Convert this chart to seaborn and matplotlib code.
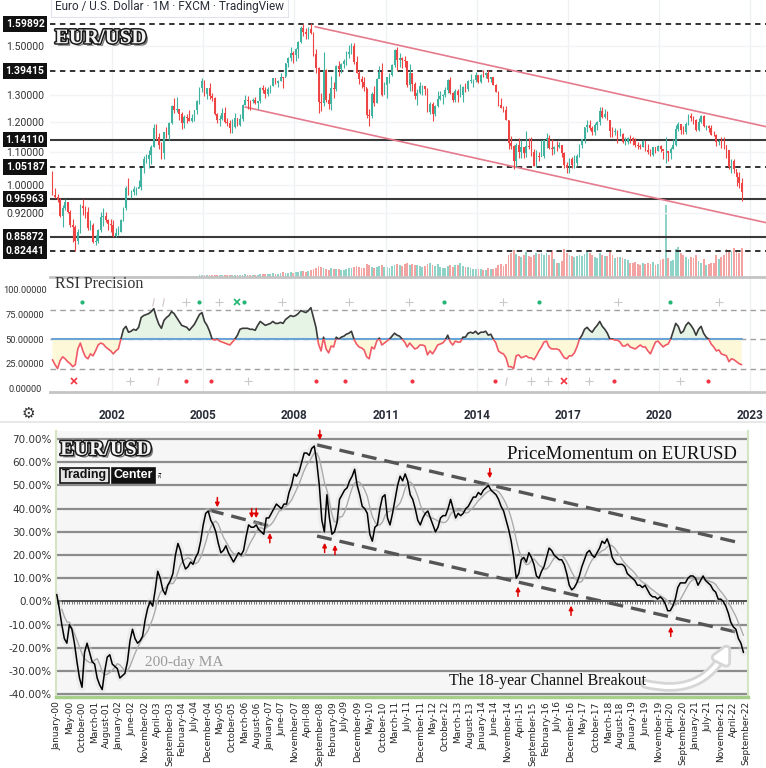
import numpy as np
import pandas as pd
import matplotlib
matplotlib.use('Agg')
import matplotlib.pyplot as plt
import matplotlib.patheffects as pe
import matplotlib.transforms as mtransforms
from matplotlib.patches import Rectangle
from matplotlib.lines import Line2D
from matplotlib.ticker import NullLocator, NullFormatter
import seaborn as sns

sns.set_theme(style='white')
plt.rcParams['font.family'] = ['Roboto', 'DejaVu Sans']

# ---------------- data: EUR/USD monthly, Jan 2000 - Sep 2022 ----------------
first_open = 1.0070
closes = [
    0.9715, 0.9645, 0.9575, 0.9125, 0.9335, 0.9520, 0.9240, 0.8880, 0.8835, 0.8480, 0.8700, 0.9390,
    0.9350, 0.9220, 0.8800, 0.8880, 0.8460, 0.8480, 0.8750, 0.9110, 0.9130, 0.9010, 0.8920, 0.8890,
    0.8610, 0.8690, 0.8720, 0.9010, 0.9340, 0.9910, 0.9790, 0.9800, 0.9870, 0.9880, 0.9940, 1.0490,
    1.0780, 1.0790, 1.0910, 1.1170, 1.1810, 1.1500, 1.1240, 1.0980, 1.1650, 1.1560, 1.1990, 1.2590,
    1.2450, 1.2480, 1.2300, 1.1960, 1.2200, 1.2170, 1.2030, 1.2170, 1.2430, 1.2760, 1.3270, 1.3560,
    1.3030, 1.3250, 1.2960, 1.2870, 1.2290, 1.2100, 1.2130, 1.2330, 1.2020, 1.1990, 1.1790, 1.1840,
    1.2160, 1.1920, 1.2110, 1.2620, 1.2820, 1.2790, 1.2770, 1.2820, 1.2680, 1.2760, 1.3250, 1.3200,
    1.3020, 1.3230, 1.3360, 1.3650, 1.3450, 1.3530, 1.3690, 1.3660, 1.4260, 1.4490, 1.4690, 1.4590,
    1.4870, 1.5190, 1.5790, 1.5610, 1.5550, 1.5760, 1.5600, 1.4670, 1.4080, 1.2730, 1.2700, 1.3980,
    1.2800, 1.2670, 1.3250, 1.3240, 1.4150, 1.4030, 1.4250, 1.4340, 1.4640, 1.4720, 1.5000, 1.4330,
    1.3870, 1.3630, 1.3510, 1.3290, 1.2270, 1.2230, 1.3050, 1.2680, 1.3630, 1.3900, 1.2990, 1.3380,
    1.3700, 1.3800, 1.4170, 1.4810, 1.4390, 1.4500, 1.4390, 1.4370, 1.3390, 1.3870, 1.3430, 1.2960,
    1.3080, 1.3330, 1.3340, 1.3240, 1.2370, 1.2660, 1.2310, 1.2580, 1.2860, 1.2960, 1.2990, 1.3190,
    1.3580, 1.3060, 1.2820, 1.3170, 1.3000, 1.3010, 1.3300, 1.3220, 1.3530, 1.3580, 1.3590, 1.3790,
    1.3490, 1.3800, 1.3770, 1.3870, 1.3630, 1.3690, 1.3390, 1.3130, 1.2630, 1.2530, 1.2450, 1.2100,
    1.1290, 1.1200, 1.0730, 1.1220, 1.0990, 1.1150, 1.0980, 1.1210, 1.1180, 1.1000, 1.0560, 1.0860,
    1.0830, 1.0870, 1.1380, 1.1450, 1.1130, 1.1110, 1.1170, 1.1160, 1.1240, 1.0980, 1.0590, 1.0520,
    1.0790, 1.0580, 1.0650, 1.0890, 1.1240, 1.1420, 1.1840, 1.1910, 1.1810, 1.1650, 1.1900, 1.2000,
    1.2410, 1.2190, 1.2310, 1.2080, 1.1690, 1.1680, 1.1690, 1.1600, 1.1600, 1.1320, 1.1320, 1.1470,
    1.1450, 1.1370, 1.1220, 1.1210, 1.1170, 1.1370, 1.1080, 1.0990, 1.0900, 1.1150, 1.1020, 1.1210,
    1.1090, 1.1030, 1.1030, 1.0960, 1.1100, 1.1230, 1.1780, 1.1940, 1.1720, 1.1650, 1.1930, 1.2210,
    1.2140, 1.2070, 1.1730, 1.2020, 1.2230, 1.1860, 1.1870, 1.1810, 1.1580, 1.1560, 1.1340, 1.1370,
    1.1230, 1.1220, 1.1070, 1.0540, 1.0730, 1.0480, 1.0220, 1.0050, 0.9800,
]
highs = [
    1.0415, 0.9890, 0.9730, 0.9620, 0.9420, 0.9600, 0.9480, 0.9290, 0.9040, 0.8880, 0.8780, 0.9450,
    0.9595, 0.9400, 0.9370, 0.9030, 0.8945, 0.8640, 0.8790, 0.9240, 0.9340, 0.9230, 0.9040, 0.9050,
    0.9010, 0.8820, 0.8850, 0.9050, 0.9380, 0.9960, 1.0190, 0.9860, 0.9950, 0.9920, 1.0150, 1.0500,
    1.0880, 1.0930, 1.1080, 1.1230, 1.1930, 1.1940, 1.1630, 1.1340, 1.1660, 1.1840, 1.2020, 1.2640,
    1.2900, 1.2930, 1.2410, 1.2380, 1.2270, 1.2290, 1.2440, 1.2300, 1.2440, 1.2800, 1.3300, 1.3670,
    1.3580, 1.3260, 1.3480, 1.3090, 1.2930, 1.2350, 1.2260, 1.2500, 1.2540, 1.2170, 1.2100, 1.2120,
    1.2320, 1.2170, 1.2290, 1.2650, 1.2980, 1.2960, 1.2810, 1.2900, 1.2910, 1.2770, 1.3300, 1.3370,
    1.3290, 1.3320, 1.3390, 1.3680, 1.3620, 1.3590, 1.3850, 1.3690, 1.4280, 1.4530, 1.4970, 1.4780,
    1.4930, 1.5240, 1.5910, 1.6020, 1.5820, 1.5840, 1.6040, 1.5650, 1.4850, 1.4100, 1.3090, 1.4720,
    1.4030, 1.3090, 1.3740, 1.3510, 1.4180, 1.4340, 1.4270, 1.4440, 1.4770, 1.5060, 1.5140, 1.5140,
    1.4580, 1.3990, 1.3740, 1.3700, 1.3250, 1.2460, 1.3130, 1.3330, 1.3680, 1.4160, 1.4280, 1.3500,
    1.3720, 1.3860, 1.4250, 1.4880, 1.4940, 1.4700, 1.4530, 1.4550, 1.4370, 1.4250, 1.3880, 1.3490,
    1.3230, 1.3490, 1.3390, 1.3290, 1.3280, 1.2740, 1.2750, 1.2640, 1.3170, 1.3140, 1.3030, 1.3310,
    1.3620, 1.3710, 1.3120, 1.3240, 1.3240, 1.3420, 1.3340, 1.3460, 1.3570, 1.3830, 1.3620, 1.3890,
    1.3740, 1.3820, 1.3970, 1.3910, 1.3990, 1.3690, 1.3700, 1.3440, 1.3140, 1.2890, 1.2600, 1.2570,
    1.2100, 1.1530, 1.1240, 1.1290, 1.1470, 1.1390, 1.1120, 1.1710, 1.1460, 1.1490, 1.1090, 1.1060,
    1.0990, 1.1380, 1.1390, 1.1620, 1.1570, 1.1420, 1.1200, 1.1370, 1.1330, 1.1220, 1.1000, 1.0680,
    1.0800, 1.0830, 1.0910, 1.0950, 1.1270, 1.1440, 1.1850, 1.2070, 1.2090, 1.1880, 1.1960, 1.2030,
    1.2540, 1.2560, 1.2480, 1.2420, 1.2100, 1.1850, 1.1790, 1.1740, 1.1820, 1.1620, 1.1500, 1.1490,
    1.1570, 1.1490, 1.1450, 1.1320, 1.1260, 1.1410, 1.1280, 1.1250, 1.1110, 1.1180, 1.1100, 1.1240,
    1.1240, 1.1050, 1.1500, 1.1020, 1.1150, 1.1420, 1.1910, 1.2010, 1.1920, 1.1880, 1.2000, 1.2310,
    1.2350, 1.2240, 1.2110, 1.2150, 1.2270, 1.2250, 1.1910, 1.1900, 1.1910, 1.1690, 1.1610, 1.1380,
    1.1480, 1.1500, 1.1190, 1.1080, 1.0790, 1.0770, 1.0370, 1.0370, 1.0200,
]
lows = [
    0.9690, 0.9630, 0.9500, 0.9090, 0.8845, 0.9290, 0.9200, 0.8840, 0.8450, 0.8230, 0.8400, 0.8680,
    0.9140, 0.9070, 0.8760, 0.8770, 0.8440, 0.8380, 0.8430, 0.8700, 0.8860, 0.8960, 0.8750, 0.8700,
    0.8580, 0.8570, 0.8620, 0.8720, 0.8990, 0.9300, 0.9700, 0.9620, 0.9690, 0.9700, 0.9900, 0.9850,
    1.0360, 1.0660, 1.0500, 1.0610, 1.1180, 1.1410, 1.1110, 1.0770, 1.0770, 1.1450, 1.1410, 1.1930,
    1.2330, 1.2370, 1.2080, 1.1760, 1.1800, 1.1960, 1.2030, 1.2000, 1.2050, 1.2280, 1.2660, 1.3110,
    1.2970, 1.2840, 1.2860, 1.2770, 1.2270, 1.1960, 1.1870, 1.2100, 1.1980, 1.1870, 1.1640, 1.1630,
    1.1800, 1.1860, 1.1880, 1.2060, 1.2620, 1.2460, 1.2450, 1.2700, 1.2650, 1.2480, 1.2700, 1.3070,
    1.2870, 1.2960, 1.3090, 1.3330, 1.3420, 1.3300, 1.3530, 1.3270, 1.3750, 1.4090, 1.4340, 1.4290,
    1.4360, 1.4500, 1.5150, 1.5460, 1.5330, 1.5300, 1.5540, 1.4580, 1.3880, 1.2330, 1.2420, 1.2600,
    1.2750, 1.2460, 1.2450, 1.2880, 1.3140, 1.3750, 1.3850, 1.4050, 1.4210, 1.4480, 1.4640, 1.4220,
    1.3870, 1.3440, 1.3270, 1.3150, 1.2140, 1.1880, 1.2150, 1.2590, 1.2690, 1.3680, 1.2970, 1.3080,
    1.2870, 1.3480, 1.3760, 1.4120, 1.3970, 1.4100, 1.4050, 1.4120, 1.3320, 1.3150, 1.3150, 1.2860,
    1.2630, 1.3040, 1.3000, 1.3000, 1.2360, 1.2290, 1.2040, 1.2240, 1.2560, 1.2800, 1.2660, 1.2930,
    1.3070, 1.3030, 1.2740, 1.2750, 1.2740, 1.2910, 1.2750, 1.3100, 1.3150, 1.3480, 1.3300, 1.3510,
    1.3480, 1.3480, 1.3710, 1.3670, 1.3500, 1.3500, 1.3370, 1.3130, 1.2570, 1.2500, 1.2360, 1.2100,
    1.1100, 1.1100, 1.0460, 1.0520, 1.0810, 1.0820, 1.0810, 1.0850, 1.1090, 1.0890, 1.0570, 1.0520,
    1.0710, 1.0860, 1.0810, 1.1140, 1.1100, 1.0910, 1.0950, 1.1050, 1.1120, 1.0850, 1.0510, 1.0340,
    1.0340, 1.0490, 1.0490, 1.0570, 1.0840, 1.1120, 1.1310, 1.1660, 1.1720, 1.1570, 1.1550, 1.1720,
    1.1920, 1.2150, 1.2160, 1.2070, 1.1510, 1.1510, 1.1570, 1.1300, 1.1530, 1.1300, 1.1220, 1.1270,
    1.1290, 1.1230, 1.1180, 1.1110, 1.1110, 1.1180, 1.1030, 1.0930, 1.0880, 1.0880, 1.0980, 1.1040,
    1.0990, 1.0780, 1.0640, 1.0730, 1.0770, 1.1100, 1.1190, 1.1710, 1.1610, 1.1600, 1.1600, 1.1920,
    1.2060, 1.1950, 1.1700, 1.1700, 1.1990, 1.1850, 1.1750, 1.1660, 1.1560, 1.1520, 1.1190, 1.1220,
    1.1120, 1.1110, 1.0810, 1.0470, 1.0350, 1.0360, 0.9950, 0.9900, 0.9540,
]
volumes = [
    0.6, 0.6, 0.6, 0.6, 0.6, 0.6, 0.6, 0.6, 0.6, 0.6, 0.6, 0.6,
    0.6, 0.6, 0.6, 0.6, 0.6, 0.6, 0.6, 0.6, 0.6, 0.6, 0.6, 0.6,
    0.6, 0.6, 0.6, 0.6, 0.6, 0.6, 0.6, 0.6, 0.6, 0.6, 0.6, 0.6,
    0.6, 0.6, 0.6, 0.6, 0.6, 0.6, 0.6, 0.6, 0.6, 0.6, 0.6, 0.6,
    1, 1, 1, 1, 1, 1, 1, 1, 1, 1, 1.5, 1.5,
    1.5, 1.5, 1.5, 1.5, 2, 2, 1.5, 1.5, 1.5, 1.5, 2, 2,
    2, 2, 2, 2, 2.5, 2, 2, 2, 2, 2, 2.5, 2.5,
    3, 3, 3, 3.5, 3, 3, 4, 5, 4, 4, 5, 4,
    5, 5, 6, 6, 5, 6, 7, 8, 9, 11, 10, 9,
    8, 7, 9, 8, 8, 8, 7, 7, 8, 9, 9, 10,
    11, 10, 9, 9, 13, 12, 10, 9, 10, 11, 12, 10,
    10, 9, 11, 12, 13, 12, 11, 13, 14, 12, 13, 12,
    12, 11, 10, 11, 13, 14, 12, 11, 13, 10, 9, 9,
    11, 12, 10, 12, 12, 14, 11, 10, 10, 9, 8, 8,
    8, 8, 7, 7, 9, 8, 8, 9, 12, 13, 11, 13,
    22, 24, 27, 23, 21, 20, 22, 25, 21, 20, 22, 24,
    23, 24, 22, 24, 22, 27, 18, 14, 14, 16, 28, 24,
    22, 21, 20, 21, 22, 21, 23, 25, 24, 22, 20, 19,
    24, 22, 21, 21, 25, 22, 19, 20, 20, 19, 18, 17,
    14, 14, 15, 13, 12, 14, 13, 14, 13, 15, 12, 13,
    17, 18, 72, 19, 16, 17, 28, 30, 24, 22, 20, 18,
    20, 19, 22, 16, 14, 18, 12, 13, 14, 14, 22, 18,
    20, 22, 28, 25, 26, 29, 27, 24, 29,
]
rsi = [
    29, 24, 20, 28, 32, 30, 27, 25, 22, 24, 40, 46,
    38, 32, 30, 35, 33, 38, 44, 46, 45, 42, 40, 38,
    35, 38, 40, 50, 60, 63, 57, 58, 60, 59, 62, 72,
    74, 75, 76, 78, 81, 72, 65, 61, 69, 72, 74, 78,
    76, 72, 68, 64, 63, 62, 59, 62, 65, 70, 75, 77,
    68, 64, 58, 50, 49, 50, 48, 47, 46, 45, 44, 47,
    50, 54, 60, 61, 61, 61, 60, 60, 59, 64, 68, 66,
    64, 65, 66, 68, 66, 66, 67, 66, 70, 72, 74, 73,
    74, 76, 79, 78, 77, 79, 82, 72, 62, 45, 38, 52,
    40, 36, 43, 42, 52, 50, 52, 53, 55, 56, 58, 50,
    45, 42, 41, 39, 32, 30, 42, 40, 48, 51, 44, 46,
    48, 50, 53, 56, 54, 53, 50, 47, 42, 46, 43, 40,
    41, 44, 44, 43, 34, 38, 35, 39, 44, 45, 46, 49,
    54, 47, 44, 48, 47, 47, 52, 52, 56, 57, 56, 58,
    55, 57, 57, 58, 54, 55, 50, 46, 38, 36, 35, 31,
    22, 22, 20, 33, 34, 31, 32, 33, 31, 31, 29, 33,
    38, 42, 47, 48, 42, 40, 40, 40, 39, 35, 31, 30,
    33, 33, 36, 42, 50, 54, 60, 62, 59, 57, 61, 64,
    68, 63, 60, 56, 50, 50, 49, 49, 47, 43, 43, 45,
    42, 41, 40, 42, 44, 42, 42, 38, 35, 41, 47, 48,
    45, 42, 44, 45, 50, 58, 66, 63, 56, 58, 64, 67,
    64, 60, 54, 60, 63, 56, 52, 50, 45, 42, 38, 39,
    35, 34, 33, 27, 30, 29, 27, 25, 24,
]
# PriceMomentum (%), one value per month
momentum = [
    3, -3, -10, -16, -18, -10, -12, -18, -26, -33, -37, -22,
    -18, -22, -26, -27, -33, -36, -38, -30, -24, -23, -27, -28,
    -29, -33, -32, -31, -26, -17, -12, -16, -18, -17, -15, -8,
    -3, 0, -2, 5, 13, 10, 5, 3, 7, 9, 12, 20,
    25, 22, 17, 14, 15, 17, 16, 19, 21, 26, 33, 38,
    39, 35, 33, 30, 25, 21, 22, 24, 21, 19, 17, 19,
    21, 20, 22, 28, 33, 32, 32, 33, 31, 30, 29, 36,
    36, 38, 40, 42, 41, 40, 42, 42, 47, 50, 55, 54,
    56, 60, 64, 64, 63, 66, 67, 60, 50, 35, 30, 46,
    36, 29, 30, 34, 44, 46, 48, 49, 52, 54, 57, 50,
    46, 41, 40, 38, 29, 26, 32, 33, 40, 45, 46, 36,
    33, 38, 44, 50, 54, 52, 55, 52, 46, 44, 40, 35,
    33, 36, 38, 39, 36, 33, 30, 32, 36, 37, 37, 40,
    44, 40, 36, 38, 37, 38, 40, 41, 43, 45, 45, 47,
    46, 48, 49, 50, 48, 47, 46, 44, 41, 39, 35, 31,
    26, 19, 10, 12, 18, 19, 17, 21, 19, 16, 11, 10,
    13, 15, 19, 23, 22, 20, 19, 18, 18, 16, 12, 7,
    5, 6, 8, 11, 15, 18, 21, 22, 20, 19, 21, 23,
    26, 25, 27, 24, 19, 17, 16, 16, 16, 15, 12, 11,
    10, 9, 7, 7, 6, 7, 5, 3, 2, 2, 1, 2,
    1, -1, -4, -4, -2, 1, 6, 8, 8, 8, 10, 11,
    11, 10, 7, 9, 11, 9, 8, 7, 5, 4, 1, 1,
    0, -2, -5, -9, -11, -12, -16, -18, -22,
]

key_levels = [1.59892, 1.39415, 1.14110, 1.05187, 0.95963, 0.85872, 0.82441]
key_dashed = [True, True, False, True, False, False, True]
plain_levels = [1.5, 1.3, 1.2, 1.1, 1.0, 0.92]
year_ticks = [2002, 2005, 2008, 2011, 2014, 2017, 2020, 2023]
# channel end points: (decimal year, price)
chan_upper = [(2008.68, 1.587), (2023.51, 1.185)]
chan_lower = [(2006.375, 1.255), (2023.51, 0.895)]

rsi_ticks = [0, 25, 50, 75, 100]
# RSI signal marks: (decimal year, kind)
sig_top = [(2001.00, 'dot'), (2003.35, 'bar'), (2003.68, 'bar'), (2004.43, 'plus'),
           (2004.86, 'dot'), (2005.52, 'plus'), (2006.10, 'x'), (2006.34, 'dot'),
           (2007.60, 'plus'), (2009.80, 'plus'), (2011.77, 'plus'), (2012.93, 'dot'),
           (2014.86, 'plus'), (2016.05, 'dot'), (2018.64, 'plus'), (2020.36, 'dot'),
           (2021.97, 'plus')]
sig_bot = [(2000.75, 'x'), (2002.59, 'plus'), (2003.51, 'bar'), (2004.43, 'dot'),
           (2005.26, 'dot'), (2006.47, 'plus'), (2008.70, 'dot'), (2009.66, 'dot'),
           (2011.86, 'dot'), (2014.60, 'dot'), (2014.96, 'bar'), (2015.77, 'plus'),
           (2016.34, 'plus'), (2016.85, 'x'), (2017.69, 'plus'), (2018.52, 'dot'),
           (2020.68, 'plus'), (2021.61, 'dot')]

mom_ticks = [70, 60, 50, 40, 30, 20, 10, 0, -10, -20, -30, -40]
mom_labels = ['January-00', 'May-00', 'October-00', 'March-01', 'August-01', 'January-02',
              'June-02', 'November-02', 'April-03', 'September-03', 'February-04', 'July-04',
              'December-04', 'May-05', 'October-05', 'March-06', 'August-06', 'January-07',
              'June-07', 'November-07', 'April-08', 'September-08', 'February-09', 'July-09',
              'December-09', 'May-10', 'October-10', 'March-11', 'July-11', 'December-11',
              'May-12', 'October-12', 'March-13', 'August-13', 'January-14', 'June-14',
              'November-14', 'April-15', 'September-15', 'February-16', 'July-16',
              'December-16', 'May-17', 'October-17', 'March-18', 'August-18', 'January-19',
              'June-19', 'November-19', 'April-20', 'September-20', 'January-21', 'July-21',
              'November-21', 'April-22', 'September-22']
# dashed channel lines on the momentum chart: (month index, %)
mom_upper = [(103.1, 67.5), (271.3, 25.1)]
mom_lower = [(103.1, 28.2), (271.3, -13.7)]
mom_short = [(60.3, 39.4), (85.4, 32.2)]
# red turning-point arrows: (month index, tip %)
arrows_down = [(63.6, 40.6), (77.2, 35.9), (79.0, 35.9), (104.2, 69.6), (171.5, 53.1)]
arrows_up = [(84.4, 29.5), (106.1, 25.3), (110.2, 24.4), (182.7, 6.4), (203.7, -1.8), (243.2, -10.9)]

# ---------------- derived frames ----------------
months = np.arange(len(closes))
t = 2000 + (months + 0.5) / 12
df = pd.DataFrame({'t': t, 'close': closes, 'high': highs, 'low': lows, 'vol': volumes, 'rsi': rsi})
df['open'] = [first_open] + closes[:-1]
up = df['close'] >= df['open']
candle_col = np.where(up, '#3fb3a0', '#ef4444')
vol_col = np.where(up, '#8fd3c8', '#f4a3a3')

mom = pd.DataFrame({'m': months, 'pm': momentum})
mom['ma'] = mom['pm'].rolling(6, min_periods=3).mean()

W, H = 766, 768
def box(x0, y0, x1, y1):
    return [x0 / W, 1 - y1 / H, (x1 - x0) / W, (y1 - y0) / H]

fig = plt.figure(figsize=(7.66, 7.68), dpi=100)
fig.patch.set_facecolor('white')
XL = (1999.96, 2023.51)

# ---------------- price pane ----------------
ax_v = fig.add_axes(box(50, 0, 766, 277))
ax_v.bar(df['t'], df['vol'], width=0.06, color=vol_col, linewidth=0)
ax_v.set_ylim(0, 277)
ax_v.set_xlim(*XL)
ax_v.axis('off')

ax_p = fig.add_axes(box(50, 0, 766, 277), sharex=ax_v)
ax_p.patch.set_visible(False)
ax_p.set_yscale('log')
ax_p.set_ylim(0.7635, 1.716)
for y in year_ticks:
    ax_p.axvline(y, color='#eef0f4', lw=1, zorder=0)
for lv in plain_levels:
    ax_p.axhline(lv, color='#f1f3f7', lw=1, zorder=0)
for lv, dashed in zip(key_levels, key_dashed):
    if dashed:
        ax_p.axhline(lv, color='#222222', lw=1.3, ls=(0, (3, 2.5)), zorder=1)
    else:
        ax_p.axhline(lv, color='#3a3a3a', lw=1.5, zorder=1)
for (x0, y0), (x1, y1) in [chan_upper, chan_lower]:
    ax_p.plot([x0, x1], [y0, y1], color='#e57b8c', lw=1.2, zorder=2)
ax_p.vlines(df['t'], df['low'], df['high'], colors=candle_col, lw=0.8, zorder=3)
ax_p.bar(df['t'], (df['close'] - df['open']).abs(), bottom=np.minimum(df['open'], df['close']),
         width=0.055, color=candle_col, linewidth=0, zorder=4)
ax_p.yaxis.set_minor_locator(NullLocator())
ax_p.yaxis.set_minor_formatter(NullFormatter())
ax_p.set_yticks(plain_levels, [f'{v:.5f}' for v in plain_levels])
ax_p.tick_params(axis='y', length=0, pad=18, labelsize=7.5, labelcolor='#333333')
for lab in ax_p.get_yticklabels():
    lab.set_horizontalalignment('center')
ax_p.tick_params(axis='x', bottom=False, labelbottom=False)
for s in ax_p.spines.values():
    s.set_visible(False)
ytrans = mtransforms.blended_transform_factory(ax_p.transAxes, ax_p.transData)
for lv in key_levels:
    ax_p.text(-25 / 716, lv, f'{lv:.5f}', transform=ytrans, ha='center', va='center',
              fontsize=7.5, color='white', fontweight='bold',
              bbox=dict(boxstyle='square,pad=0.28', fc='#111111', ec='none'))
ax_p.text(0.007, 0.975, 'Euro / U.S. Dollar · 1M · FXCM · TradingView', transform=ax_p.transAxes,
          ha='left', va='center', fontsize=8.5, color='#2a2e39',
          bbox=dict(boxstyle='square,pad=0.3', fc='white', ec='#e0e3eb', lw=0.8))
emblem = [pe.SimplePatchShadow(offset=(1.8, -1.8), shadow_rgbFace='#444444', alpha=0.7),
          pe.Stroke(linewidth=2.2, foreground='#1a1a1a'), pe.Normal()]
ax_p.text(0.007, 0.862, 'EUR/USD', transform=ax_p.transAxes, ha='left', va='center',
          fontsize=15, family='Liberation Serif', fontweight='bold', color='#f4f4f4',
          path_effects=emblem)

# ---------------- RSI pane ----------------
ax_r = fig.add_axes(box(50, 277, 766, 392), sharex=ax_v)
ax_r.set_ylim(-3.8, 113.2)
ax_r.set_xlim(*XL)
for y in year_ticks:
    ax_r.axvline(y, color='#eef0f4', lw=1, zorder=0)
for lv in (80, 50, 20):
    ax_r.axhline(lv, color='#a0a0a0', lw=1, ls=(0, (4, 3)), zorder=1)
ax_r.fill_between(df['t'], df['rsi'], 50, where=df['rsi'] >= 50, interpolate=True,
                  color='#e6f4e6', lw=0, zorder=1)
ax_r.fill_between(df['t'], df['rsi'], 50, where=df['rsi'] < 50, interpolate=True,
                  color='#fdf8d8', lw=0, zorder=1)
ax_r.plot([df['t'].iloc[0], df['t'].iloc[-1]], [50, 50], color='#6aa3d5', lw=1.5, zorder=2)
sns.lineplot(x=df['t'], y=df['rsi'], ax=ax_r, color='#3a3a3a', lw=1.2, zorder=3)
line_hi = ax_r.lines[-1]
sns.lineplot(x=df['t'], y=df['rsi'], ax=ax_r, color='#f05a66', lw=1.2, zorder=3)
line_lo = ax_r.lines[-1]
line_hi.set_clip_path(Rectangle((1990, 50), 50, 100, transform=ax_r.transData))
line_lo.set_clip_path(Rectangle((1990, -50), 50, 100, transform=ax_r.transData))

sig_style = {
    'dot': dict(marker='o', ms=3, mew=0),
    'plus': dict(marker='+', ms=6, mew=0.8, color='#c9c9c9'),
    'x': dict(marker='x', ms=5, mew=1.2),
    'bar': dict(marker='$I$', ms=6, mew=0, color='#d0c4c4'),
}
for sigs, yv, col in [(sig_top, 88, '#22b573'), (sig_bot, 7, '#f23645')]:
    for ts, kind in sigs:
        st = dict(sig_style[kind])
        st.setdefault('color', col)
        ax_r.plot([ts], [yv], ls='none', zorder=4, **st)

ax_r.set_yticks(rsi_ticks, [f'{v:.5f}' for v in rsi_ticks])
ax_r.tick_params(axis='y', length=0, pad=18, labelsize=6.7, labelcolor='#333333')
for lab in ax_r.get_yticklabels():
    lab.set_horizontalalignment('center')
ax_r.set_xticks(year_ticks, [str(y) for y in year_ticks])
ax_r.tick_params(axis='x', length=0, pad=12, labelsize=8.5, labelcolor='#2a2e39')
for lab in ax_r.get_xticklabels():
    lab.set_fontweight('bold')
ax_r.set_xlabel('')
ax_r.set_ylabel('')
for k in ('left', 'right'):
    ax_r.spines[k].set_visible(False)
for k in ('top', 'bottom'):
    ax_r.spines[k].set_color('#c4c4c4')
    ax_r.spines[k].set_linewidth(2)
ax_r.text(0.007, 1.005, 'RSI Precision', transform=ax_r.transAxes, ha='left', va='top',
          fontsize=11.5, family='Liberation Serif', color='#333333')
fig.text(28 / W, 1 - 413 / H, '⚙', ha='center', va='center', fontsize=11, color='#333333',
         family='DejaVu Sans')
fig.add_artist(Line2D([0, 1], [1 - 422 / H] * 2, color='#e8e8e8', lw=1.5))

# ---------------- PriceMomentum pane ----------------
ax_b = fig.add_axes(box(56, 431, 748, 697))
ax_b.set_facecolor('#f6f6f6')
ax_b.set_xlim(-0.3, 273.8)
ax_b.set_ylim(-41.2, 73.5)
for v in mom_ticks:
    if v == 0:
        continue
    ax_b.axhline(v, color='#8c8c8c', lw=1.6, zorder=1)
ax_b.axhline(0, color='#222222', lw=1.1, zorder=2)
ax_b.vlines(mom['m'], -1.0, 0, color='#444444', lw=0.5, zorder=2)

for pts in (mom_upper, mom_lower, mom_short):
    (x0, y0), (x1, y1) = pts
    ax_b.plot([x0, x1], [y0, y1], color='#555555', lw=2.4, ls=(0, (4.5, 2.4)), zorder=3)

ax_b.plot(mom['m'], mom['pm'], color='#dadada', lw=5, alpha=0.35, solid_capstyle='round', zorder=3)
sns.lineplot(data=mom, x='m', y='ma', ax=ax_b, color='#ababab', lw=1.0, zorder=4)
sns.lineplot(data=mom, x='m', y='pm', ax=ax_b, color='black', lw=1.1, zorder=5)

for mx, tip in arrows_down:
    ax_b.annotate('', xy=(mx, tip), xytext=(0, 7), textcoords='offset points',
                  arrowprops=dict(arrowstyle='-|>', color='#e00000', lw=1.1,
                                  mutation_scale=6, shrinkA=0, shrinkB=0), zorder=6)
for mx, tip in arrows_up:
    ax_b.annotate('', xy=(mx, tip), xytext=(0, -7), textcoords='offset points',
                  arrowprops=dict(arrowstyle='-|>', color='#e00000', lw=1.1,
                                  mutation_scale=6, shrinkA=0, shrinkB=0), zorder=6)

brk = ax_b.annotate('', xy=(266, -19), xytext=(233, -35.5),
                    arrowprops=dict(arrowstyle='-|>,head_width=0.35,head_length=0.7', color='white',
                                    lw=3, connectionstyle='arc3,rad=0.4', shrinkA=0, shrinkB=0),
                    zorder=6)
brk.arrow_patch.set_path_effects([pe.Stroke(linewidth=7, foreground='#d6d6d6'), pe.Normal()])

ax_b.text(0.006, 0.929, 'EUR/USD', transform=ax_b.transAxes, ha='left', va='center',
          fontsize=15, family='Liberation Serif', fontweight='bold', color='#f4f4f4',
          path_effects=emblem, zorder=7)
ax_b.text(0.009, 0.833, 'Trading', transform=ax_b.transAxes, ha='left', va='center',
          fontsize=9, fontweight='bold', color='#111111', family='Liberation Sans',
          bbox=dict(boxstyle='square,pad=0.15', fc='#e4e4e4', ec='#111111', lw=1.2), zorder=7)
ax_b.text(0.083, 0.833, 'Center', transform=ax_b.transAxes, ha='left', va='center',
          fontsize=9, fontweight='bold', color='white', family='Liberation Sans',
          bbox=dict(boxstyle='square,pad=0.15', fc='#111111', ec='#111111', lw=1.2), zorder=7)
ax_b.text(0.148, 0.833, 'inc', transform=ax_b.transAxes, ha='center', va='center',
          fontsize=3.5, rotation=270, color='#111111', zorder=7)
ax_b.text(0.984, 0.912, 'PriceMomentum on EURUSD', transform=ax_b.transAxes, ha='right',
          va='center', fontsize=13.5, family='Liberation Serif', color='#111111', zorder=7)
ax_b.text(34.8, -26.3, '200-day MA', ha='left', va='center', fontsize=11,
          family='Liberation Serif', color='#9a9a9a', zorder=7)
ax_b.text(194.5, -34.4, 'The 18-year Channel Breakout', ha='center', va='center', fontsize=11.5,
          family='Liberation Serif', color='#111111', zorder=7)

ax_b.set_yticks(mom_ticks, [f'{v:.2f}%' for v in mom_ticks])
ax_b.tick_params(axis='y', length=0, pad=3, labelsize=7.5, labelcolor='#333333')
ax_b.set_xticks(np.linspace(0, 273, len(mom_labels)), mom_labels, rotation=90)
ax_b.tick_params(axis='x', length=0, pad=3, labelsize=6.5, labelcolor='#222222')
for lab in ax_b.get_yticklabels() + ax_b.get_xticklabels():
    lab.set_family('DejaVu Sans')
ax_b.set_xlabel('')
ax_b.set_ylabel('')
ax_b.spines['top'].set_visible(False)
ax_b.spines['left'].set_color('#d3e6c4')
ax_b.spines['left'].set_linewidth(1.5)
ax_b.spines['right'].set_color('#d3e6c4')
ax_b.spines['right'].set_linewidth(1.5)
ax_b.spines['bottom'].set_color('#a6cf8c')
ax_b.spines['bottom'].set_linewidth(2.5)

fig.savefig('out.png', dpi=100, facecolor='white')
